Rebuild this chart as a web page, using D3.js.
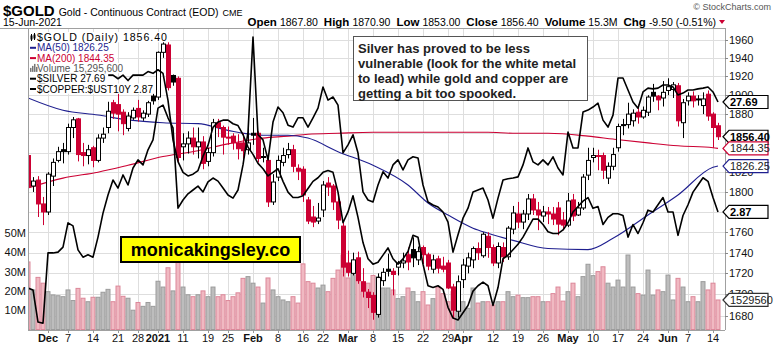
<!DOCTYPE html>
<html><head><meta charset="utf-8">
<script src="https://cdn.jsdelivr.net/npm/d3@7"></script>
<style>
body{margin:0;background:#fff}
svg{display:block}
text{font-family:"Liberation Sans",Arial,sans-serif}
</style>
</head><body>
<svg id="c" width="774" height="345"></svg>
<script>
// ---------- DATA ----------
const dates = [
"2020-11-24","2020-11-25","2020-11-27","2020-11-30","2020-12-01","2020-12-02","2020-12-03","2020-12-04",
"2020-12-07","2020-12-08","2020-12-09","2020-12-10","2020-12-11","2020-12-14","2020-12-15","2020-12-16","2020-12-17","2020-12-18",
"2020-12-21","2020-12-22","2020-12-23","2020-12-24","2020-12-28","2020-12-29","2020-12-30","2020-12-31",
"2021-01-04","2021-01-05","2021-01-06","2021-01-07","2021-01-08","2021-01-11","2021-01-12","2021-01-13","2021-01-14","2021-01-15",
"2021-01-19","2021-01-20","2021-01-21","2021-01-22","2021-01-25","2021-01-26","2021-01-27","2021-01-28","2021-01-29",
"2021-02-01","2021-02-02","2021-02-03","2021-02-04","2021-02-05","2021-02-08","2021-02-09","2021-02-10","2021-02-11","2021-02-12",
"2021-02-16","2021-02-17","2021-02-18","2021-02-19","2021-02-22","2021-02-23","2021-02-24","2021-02-25","2021-02-26",
"2021-03-01","2021-03-02","2021-03-03","2021-03-04","2021-03-05","2021-03-08","2021-03-09","2021-03-10","2021-03-11","2021-03-12",
"2021-03-15","2021-03-16","2021-03-17","2021-03-18","2021-03-19","2021-03-22","2021-03-23","2021-03-24","2021-03-25","2021-03-26",
"2021-03-29","2021-03-30","2021-03-31","2021-04-01","2021-04-05","2021-04-06","2021-04-07","2021-04-08","2021-04-09",
"2021-04-12","2021-04-13","2021-04-14","2021-04-15","2021-04-16","2021-04-19","2021-04-20","2021-04-21","2021-04-22","2021-04-23",
"2021-04-26","2021-04-27","2021-04-28","2021-04-29","2021-04-30","2021-05-03","2021-05-04","2021-05-05","2021-05-06","2021-05-07",
"2021-05-10","2021-05-11","2021-05-12","2021-05-13","2021-05-14","2021-05-17","2021-05-18","2021-05-19","2021-05-20","2021-05-21",
"2021-05-24","2021-05-25","2021-05-26","2021-05-27","2021-05-28","2021-06-01","2021-06-02","2021-06-03","2021-06-04",
"2021-06-07","2021-06-08","2021-06-09","2021-06-10","2021-06-11","2021-06-14","2021-06-15"];

const open = [1837,1806,1812,1788,1780,1816,1832,1843,
1841,1866,1875,1840,1837,1845,1832,1855,1866,1892,
1890,1882,1865,1876,1886,1876,1880,1899,
1898,1946,1954,1921,1918,1846,1849,1855,1846,1851,
1831,1840,1871,1866,1856,1857,1850,1850,1843,
1860,1860,1836,1832,1790,1815,1830,1838,1843,1824,
1823,1792,1775,1771,1782,1809,1806,1790,1766,
1730,1720,1735,1712,1702,1699,1681,1713,1724,1722,
1726,1730,1738,1743,1733,1745,1738,1724,1734,1727,
1730,1707,1684,1714,1727,1733,1744,1737,1756,
1745,1730,1745,1736,1763,1778,1770,1778,1793,1782,
1776,1780,1778,1784,1772,1767,1792,1777,1784,1817,
1835,1837,1837,1814,1826,1845,1869,1869,1873,1882,
1877,1882,1903,1899,1897,1905,1906,1910,1871,
1894,1899,1896,1889,1901,1880,1867.8];
const high = [1840,1815,1816,1795,1820,1834,1846,1850,
1870,1877,1876,1850,1848,1847,1859,1866,1893,1895,
1906,1885,1882,1887,1895,1884,1894,1902,
1947,1958,1962,1922,1920,1860,1862,1866,1866,1857,
1845,1875,1875,1868,1867,1860,1859,1860,1868,
1876,1862,1845,1838,1818,1837,1845,1850,1848,1828,
1826,1795,1786,1789,1811,1815,1808,1795,1770,
1742,1740,1741,1725,1705,1702,1720,1725,1739,1725,
1732,1740,1745,1755,1746,1747,1740,1738,1737,1736,
1733,1710,1718,1734,1740,1746,1750,1760,1760,
1748,1750,1750,1766,1786,1790,1782,1798,1798,1790,
1786,1785,1785,1790,1780,1799,1798,1790,1818,1845,
1845,1843,1840,1830,1845,1870,1875,1892,1885,1890,
1888,1900,1912,1900,1915,1918,1914,1913,1896,
1903,1904,1900,1903,1905,1882,1870.9];
const low = [1800,1800,1775,1767,1777,1806,1830,1829,
1838,1855,1831,1826,1828,1825,1830,1850,1860,1875,
1862,1858,1862,1874,1872,1873,1877,1890,
1895,1940,1905,1910,1830,1832,1839,1838,1834,1823,
1826,1836,1856,1838,1848,1843,1833,1830,1838,
1848,1830,1830,1785,1787,1811,1826,1834,1820,1812,
1790,1768,1765,1768,1775,1796,1782,1763,1717,
1717,1718,1710,1697,1687,1676,1678,1708,1717,1699,
1718,1725,1723,1726,1728,1729,1723,1720,1720,1721,
1705,1677,1678,1706,1720,1725,1733,1735,1735,
1727,1725,1731,1733,1758,1764,1763,1772,1777,1762,
1770,1768,1767,1757,1762,1765,1771,1776,1782,1812,
1830,1822,1813,1808,1822,1841,1858,1865,1867,1870,
1875,1878,1893,1884,1888,1900,1897,1867,1855,
1889,1887,1889,1880,1873,1845,1853];
const close = [1805,1811,1788,1780,1818,1830,1841,1841,
1866,1874,1838,1837,1843,1832,1855,1859,1883,1881,
1880,1870,1878,1884,1877,1881,1892,1894,
1946,1955,1908,1914,1835,1849,1855,1846,1851,1829,
1840,1871,1866,1856,1855,1850,1844,1842,1850,
1858,1834,1835,1790,1810,1832,1837,1843,1826,1821,
1797,1771,1770,1774,1807,1805,1790,1772,1726,
1721,1733,1713,1703,1697,1683,1716,1721,1722,1719,
1730,1732,1731,1735,1741,1738,1727,1733,1725,1724,
1706,1685,1712,1728,1735,1744,1740,1758,1745,
1730,1746,1736,1764,1779,1770,1778,1793,1782,1777,
1780,1778,1773,1768,1767,1791,1776,1784,1815,1832,
1837,1836,1822,1826,1838,1867,1868,1880,1881,1877,
1884,1898,1899,1895,1903,1909,1911,1873,1892,
1899,1894,1895,1896,1878,1866,1856.4];
// volume, millions
const volume = [35,20.5,27,24,19.6,17.9,17.5,17,
20.5,15,21.3,16.2,14.4,16.7,16.7,19.3,20.8,14.4,
22.5,17.2,16.2,10,14,12,14,12,
25,22,32,20,35,22,18,17,18,20,
17,22,17,18,15,17,19,26.5,27.4,
24,22,13.7,26.7,20.5,17,15.3,14.4,17,13.7,
34,24.8,24,21.5,23,19.6,26.5,30.8,38.6,
26.7,30,28,19.6,24,28,27.4,21.5,21.5,20.5,
16,17,21.5,19.6,14.4,19.6,12.7,16,22,18.6,
14.4,19.6,20.5,14.4,11,21.5,13.7,14.4,14.4,
12.7,14.4,14.4,19.6,17,17.8,16.5,16.5,17,17,
14.4,14.4,18.6,22,14.7,19.6,24,17,27.4,33.8,
27.9,30,32.5,24,22,25.6,22,38.6,22,18.6,
17.8,30.8,17.8,20.5,19.6,28.2,15.3,26.5,22,
14.4,17,14.4,24.8,20.5,24,15.3];
const silver = [22.87,22.82,21.99,21.96,23.78,23.78,23.80,23.93,
24.56,24.48,23.86,23.67,23.73,23.67,24.19,24.81,25.28,25.67,
25.46,25.80,25.54,25.98,26.19,26.06,26.45,26.71,
27.53,27.61,27.28,27.02,24.94,25.15,25.31,25.41,25.51,25.36,
25.62,25.72,25.64,25.46,25.28,25.20,25.41,26.06,26.91,
29.37,26.84,26.71,26.19,27.17,27.56,27.41,27.09,27.04,27.28,
27.28,27.04,27.28,27.53,28.08,27.74,27.82,27.61,26.37,
26.58,26.84,26.37,25.36,25.15,25.10,25.54,25.88,25.72,26.06,
26.19,25.93,26.19,26.27,26.24,25.54,25.10,25.02,24.97,24.84,
24.58,23.80,24.25,24.68,24.94,25.36,25.41,25.46,25.15,
24.68,25.20,25.67,25.70,25.72,25.75,26.06,26.50,26.14,26.06,
26.19,26.06,26.27,25.98,25.80,26.91,26.50,26.50,27.43,27.48,
27.56,27.66,27.22,27.04,27.35,28.31,28.31,28.00,27.69,27.53,
27.95,28.05,28.03,28.05,28.13,28.13,28.08,27.87,27.92,
28.00,28.00,28.03,28.05,28.08,27.95,27.69];
const copper = [3.61,3.60,3.59,3.58,3.60,3.61,3.63,3.61,
3.63,3.64,3.61,3.63,3.64,3.63,3.61,3.62,3.63,3.63,
3.61,3.63,3.60,3.63,3.63,3.63,3.65,3.64,
3.66,3.64,3.49,3.27,3.15,3.09,3.07,3.08,3.10,3.18,
3.24,3.34,3.37,3.38,3.38,3.36,3.35,3.30,3.23,
3.19,3.14,3.11,3.07,3.09,3.11,3.04,2.98,2.95,2.95,
2.96,3.00,3.04,3.06,3.09,3.10,3.09,2.98,2.81,
2.87,2.96,2.84,2.70,2.61,2.58,2.59,2.63,2.67,2.61,
2.58,2.61,2.65,2.74,2.73,2.58,2.46,2.45,2.46,2.44,
2.34,2.28,2.27,2.31,2.35,2.43,2.46,2.48,2.46,
2.35,2.45,2.61,2.63,2.66,2.69,2.73,2.78,2.83,2.83,
2.80,2.76,2.75,2.75,2.77,2.81,2.87,2.90,2.93,2.95,
2.89,2.90,2.80,2.84,2.86,2.86,2.85,2.73,2.80,2.75,
2.81,2.88,2.87,2.91,2.95,2.87,2.87,2.74,2.85,
2.91,2.98,3.02,3.06,3.04,2.95,2.87];
const maDates = ["2020-11-24","2020-12-04","2020-12-15","2020-12-23","2021-01-05","2021-01-14","2021-01-25",
"2021-02-03","2021-02-10","2021-02-17","2021-02-25","2021-03-08","2021-03-17","2021-03-23","2021-03-29",
"2021-04-06","2021-04-09","2021-04-16","2021-04-27","2021-05-07","2021-05-14","2021-05-25","2021-06-03","2021-06-14","2021-06-15"];
const ma50 = [1897,1884,1879,1874,1871,1870,1863,1858,1858,1855,1841,1827,1807,1789,1777,
1764,1759,1752,1744,1743,1754,1777,1797,1825,1826.25];
const ma200 = [1804,1814,1820,1827,1836,1842,1849,1855,1857,1859,1860,1861,1861,1861,1861,
1861,1861,1860,1860,1857,1854,1850,1847,1845,1844.35];
const priceTicks = [1680,1700,1720,1740,1760,1780,1800,1820,1840,1860,1880,1900,1920,1940,1960];
const volumeTicks = [10,20,30,40,50];
const xLabelDates = ["2020-12-01","2020-12-07","2020-12-14","2020-12-21","2020-12-28","2021-01-04","2021-01-11","2021-01-19","2021-01-25",
"2021-02-01","2021-02-08","2021-02-16","2021-02-22","2021-03-01","2021-03-08","2021-03-15","2021-03-22","2021-03-29",
"2021-04-01","2021-04-12","2021-04-19","2021-04-26","2021-05-03","2021-05-10","2021-05-17","2021-05-24","2021-06-01","2021-06-07","2021-06-14"];
const xLabelText = ["Dec","7","14","21","28","2021","11","19","25","Feb","8","16","22","Mar","8","15","22","29","Apr","12","19","26","May","10","17","24","Jun","7","14"];
const xLabelBold = ["Dec","2021","Feb","Mar","Apr","May","Jun"];

// ---------- DRAW ----------
const svg = d3.select("#c");
const L = 28, R = 725, T = 28, B = 330;
const RED = "#cc0033", NAVY = "#1f1f8f";
const x = d3.scalePoint().domain(dates).range([28, 718]);
const y = d3.scaleLog().domain([1960, 1680]).range([39.5, 315.5]);
const yv = d3.scaleLinear().domain([0, 50]).range([329.5, 233]);
const ys = d3.scaleLinear().domain([21.783, 29.607]).range([B, T]);
const yc = d3.scaleLinear().domain([2.214, 3.892]).range([B, T]);

svg.append("defs").append("clipPath").attr("id","plot")
  .append("rect").attr("x",L).attr("y",T).attr("width",R-L).attr("height",B-T);

// grid
const grid = svg.append("g").attr("stroke","#dedede").attr("stroke-width",1);
priceTicks.forEach(t => grid.append("line").attr("x1",L).attr("x2",R)
  .attr("y1",Math.round(y(t))+0.5).attr("y2",Math.round(y(t))+0.5));
xLabelDates.forEach(d => grid.append("line").attr("y1",T).attr("y2",B)
  .attr("x1",Math.round(x(d))+0.5).attr("x2",Math.round(x(d))+0.5));

const plot = svg.append("g").attr("clip-path","url(#plot)");

// volume
const isDown = i => i === 0 ? close[0] < open[0] : close[i] < close[i-1];
plot.append("g").selectAll("rect").data(dates).join("rect")
  .attr("x", d => x(d) - 2.5 + 0.5).attr("width", 4)
  .attr("y", (d,i) => yv(volume[i])).attr("height", (d,i) => yv(0) - yv(volume[i]))
  .attr("fill", (d,i) => isDown(i) ? "#f0b9c2" : "#bdbdbd")
  .attr("stroke", (d,i) => isDown(i) ? "#dc8799" : "#9b9b9b").attr("stroke-width",1);

// moving averages
const maLine = arr => d3.line().x((d,i) => x(d)).y((d,i) => y(arr[i])).curve(d3.curveMonotoneX);
plot.append("path").attr("d", maLine(ma200)(maDates)).attr("fill","none").attr("stroke",RED).attr("stroke-width",1.1);
plot.append("path").attr("d", maLine(ma50)(maDates)).attr("fill","none").attr("stroke",NAVY).attr("stroke-width",1.1);

// candles
const cg = plot.append("g");
dates.forEach((d,i) => {
  const cx = Math.round(x(d)) + 0.5;
  const col = isDown(i) ? RED : "#000";
  const hollow = close[i] > open[i];
  const top = y(Math.max(open[i], close[i])), bot = y(Math.min(open[i], close[i]));
  cg.append("line").attr("x1",cx).attr("x2",cx).attr("y1",y(high[i])).attr("y2",y(low[i]))
    .attr("stroke",col).attr("stroke-width",1);
  cg.append("rect").attr("x",cx-2).attr("width",4)
    .attr("y",top).attr("height",Math.max(1, bot-top))
    .attr("fill", hollow ? "#fff" : col).attr("stroke",col).attr("stroke-width",1);
});

// overlays
plot.append("path").datum(silver)
  .attr("d", d3.line().x((v,i) => x(dates[i])).y(v => ys(v)))
  .attr("fill","none").attr("stroke","#000").attr("stroke-width",1.6).attr("stroke-linejoin","round");
plot.append("path").datum(copper)
  .attr("d", d3.line().x((v,i) => x(dates[i])).y(v => yc(v)))
  .attr("fill","none").attr("stroke","#000").attr("stroke-width",1.6).attr("stroke-linejoin","round");

// frame
svg.append("line").attr("x1",0).attr("x2",R).attr("y1",T+0.5).attr("y2",T+0.5).attr("stroke","#a0a0a0");
svg.append("line").attr("x1",L+0.5).attr("x2",L+0.5).attr("y1",T).attr("y2",B).attr("stroke","#a0a0a0");
svg.append("line").attr("x1",L).attr("x2",R).attr("y1",B+0.5).attr("y2",B+0.5).attr("stroke","#a0a0a0");
svg.append("line").attr("x1",R+0.5).attr("x2",R+0.5).attr("y1",T).attr("y2",B).attr("stroke","#a0a0a0");

// right value tags (positions from data)
const tags = [
  {yy: ys(silver[silver.length-1]), txt:"27.69", stroke:"#000", fill:"#000", bold:true},
  {yy: y(close[close.length-1]), txt:"1856.40", stroke:"#000", fill:"#000", bold:true},
  {yy: y(ma200[ma200.length-1]), txt:"1844.35", stroke:RED, fill:"#222", bold:false},
  {yy: y(ma50[ma50.length-1]), txt:"1826.25", stroke:NAVY, fill:"#222", bold:false},
  {yy: yc(copper[copper.length-1]), txt:"2.87", stroke:"#000", fill:"#000", bold:true},
  {yy: yv(volume[volume.length-1]), txt:"1529560", stroke:"#333", fill:"#222", bold:false}];

// right axis (labels hidden behind a value tag are not drawn, as in the original)
priceTicks.forEach(t => {
  const yy = Math.round(y(t)) + 0.5;
  svg.append("line").attr("x1",R).attr("x2",R+3).attr("y1",yy).attr("y2",yy).attr("stroke","#888");
  const covered = tags.some(g => Math.abs(g.yy - y(t)) < 5);
  if (!covered) svg.append("text").attr("x",729).attr("y",y(t)+4).attr("font-size",11).attr("fill","#111").text(t);
});
// volume axis (left)
volumeTicks.forEach(t => {
  svg.append("text").attr("x",26).attr("y",yv(t)+4).attr("text-anchor","end")
    .attr("font-size",11).attr("fill","#111").text(t + "M");
});
// x labels
xLabelDates.forEach((d,i) => {
  svg.append("line").attr("x1",Math.round(x(d))+0.5).attr("x2",Math.round(x(d))+0.5)
    .attr("y1",B).attr("y2",B+3).attr("stroke","#999");
  svg.append("text").attr("x",x(d)).attr("y",342).attr("text-anchor","middle")
    .attr("font-size",11).attr("font-weight", xLabelBold.includes(xLabelText[i]) ? "bold" : "normal")
    .attr("fill","#111").text(xLabelText[i]);
});

tags.forEach(g => {
  const h = 6.5;
  svg.append("path").attr("d",`M${R-2},${g.yy} L${R+4},${g.yy-h} H768 V${g.yy+h} H${R+4} Z`)
    .attr("fill","#fff").attr("stroke",g.stroke).attr("stroke-width",1.2);
  svg.append("text").attr("x",R+5).attr("y",g.yy+4).attr("font-size",11)
    .attr("font-weight",g.bold?"bold":"normal").attr("fill",g.fill).text(g.txt);
});

// header
const h1 = svg.append("text").attr("x",3).attr("y",16);
h1.append("tspan").attr("font-size",15).attr("font-weight","bold").text("$GOLD");
h1.append("tspan").attr("font-size",10.5).attr("dx",4).text("Gold - Continuous Contract (EOD)");
h1.append("tspan").attr("font-size",9).attr("dx",4).text("CME");
svg.append("text").attr("x",3).attr("y",26).attr("font-size",10.5).text("15-Jun-2021");
const h2 = svg.append("text").attr("x",716).attr("y",26).attr("text-anchor","end").attr("font-size",10.5);
[["Open","1867.80"],["High","1870.90"],["Low","1853.00"],["Close","1856.40"],["Volume","15.3M"],["Chg","-9.50 (-0.51%)"]]
  .forEach((p,k) => {
    h2.append("tspan").attr("font-weight","bold").attr("font-size",11.5).attr("dx", k ? 6 : 0).text(p[0]);
    h2.append("tspan").attr("dx",3).text(p[1]);
  });
svg.append("path").attr("d","M719,20 L725,20 L722,24 Z").attr("fill",RED);
svg.append("text").attr("x",771).attr("y",10).attr("text-anchor","end").attr("font-size",9)
  .attr("fill","#555").text("\u00A9 StockCharts.com");

// legend
const legend = [
  {t:"$GOLD (Daily) 1856.40", c:"#000", icon:"candle", len:130},
  {t:"MA(50) 1826.25", c:NAVY, icon:"line"},
  {t:"MA(200) 1844.35", c:RED, icon:"line"},
  {t:"Volume 15,295,600", c:"#555", icon:"vol"},
  {t:"$SILVER 27.69", c:"#000", icon:"line"},
  {t:"$COPPER:$UST10Y 2.87", c:"#000", icon:"line"}];
const lg = svg.append("g");
legend.forEach((e,k) => {
  const yy = 41 + k*10.3;
  const tx = lg.append("text").attr("x",37).attr("y",yy).attr("font-family","DejaVu Sans")
    .attr("font-size",e.len ? 10.6 : 10).attr("fill",e.c).text(e.t);
  if (e.len) tx.attr("textLength", e.len).attr("lengthAdjust","spacing");
  const w = e.len || tx.node().getComputedTextLength();
  lg.insert("rect","text").attr("x",29).attr("y",yy-9).attr("width",w+11).attr("height",10.3).attr("fill","#fff");
  if (e.icon === "line") lg.append("rect").attr("x",30).attr("y",yy-4.5).attr("width",6).attr("height",2).attr("fill",e.c);
  if (e.icon === "candle") {
    [[31,-7,-1],[34,-8,-2]].forEach(c => {
      lg.append("line").attr("x1",c[0]+0.5).attr("x2",c[0]+0.5).attr("y1",yy+c[1]).attr("y2",yy+c[2]+1).attr("stroke","#000");
      lg.append("rect").attr("x",c[0]-0.5).attr("y",yy+c[1]+1.5).attr("width",2).attr("height",4).attr("fill","#000");
    });
  }
  if (e.icon === "vol") {
    [[30,4],[32,6],[34,8],[36,5]].forEach(b => lg.append("rect").attr("x",b[0]).attr("y",yy-b[1]).attr("width",1.5).attr("height",b[1]).attr("fill","#777"));
  }
});

// annotation
svg.append("rect").attr("x",353.5).attr("y",36.5).attr("width",234).attr("height",64)
  .attr("fill","#fff").attr("stroke","#555");
["Silver has proved to be less","vulnerable (look for the white metal","to lead) while gold and copper are","getting a bit too spooked."]
  .forEach((s,k) => svg.append("text").attr("x",358).attr("y",52.5+k*15).attr("font-size",13)
    .attr("font-weight","bold").attr("fill","#222").text(s));

// logo
svg.append("rect").attr("x",121).attr("y",237).attr("width",179).attr("height",25)
  .attr("fill","#ffff00").attr("stroke","#000").attr("stroke-width",2);
svg.append("text").attr("x",210.5).attr("y",256).attr("text-anchor","middle").attr("font-size",18)
  .attr("font-weight","bold").attr("fill","#000").text("monicakingsley.co");
</script>
</body></html>
